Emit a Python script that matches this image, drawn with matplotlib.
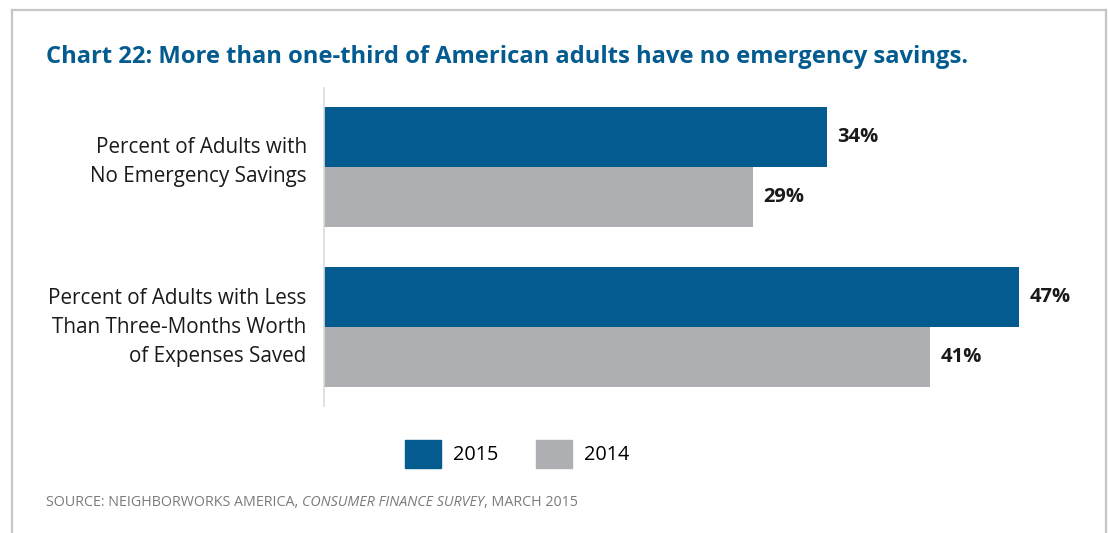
import matplotlib
matplotlib.use("Agg")
import matplotlib.pyplot as plt
from matplotlib.patches import Rectangle
from matplotlib.lines import Line2D

categories = [
    "Percent of Adults with\nNo Emergency Savings",
    "Percent of Adults with Less\nThan Three-Months Worth\nof Expenses Saved",
]
series_names = ["2015", "2014"]
values_2015 = [34, 47]
values_2014 = [29, 41]

title = "Chart 22: More than one-third of American adults have no emergency savings."
source_parts = [
    ("SOURCE: NEIGHBORWORKS AMERICA, ", "normal"),
    ("CONSUMER FINANCE SURVEY", "italic"),
    (", MARCH 2015", "normal"),
]

BLUE = "#035b8f"
GRAY = "#aeafb2"
FONT = "Open Sans"

plt.rcParams["font.family"] = [FONT, "DejaVu Sans"]

W, H = 1108, 533
fig = plt.figure(figsize=(W / 100, H / 100), dpi=100)
fig.patch.set_facecolor("white")

# frame around the panel (open at the bottom)
frame_kw = dict(color="#c6c6c6", linewidth=1.6, transform=fig.transFigure)
fig.add_artist(Line2D([12 / W, 12 / W], [0, 1 - 10 / H], **frame_kw))
fig.add_artist(Line2D([1106 / W, 1106 / W], [0, 1 - 10 / H], **frame_kw))
fig.add_artist(Line2D([12 / W, 1106 / W], [1 - 10 / H, 1 - 10 / H], **frame_kw))

# plotting area
left, right = 324, 324 + 52 * 14.79
top, bottom = 88, 406
ax = fig.add_axes([left / W, 1 - bottom / H, (right - left) / W, (bottom - top) / H])

bar_h = 0.375
pos = list(range(len(categories)))
b1 = ax.barh([p - bar_h / 2 for p in pos], values_2015, height=bar_h, color=BLUE,
             label=series_names[0], linewidth=0)
b2 = ax.barh([p + bar_h / 2 for p in pos], values_2014, height=bar_h, color=GRAY,
             label=series_names[1], linewidth=0)

for bars, vals in ((b1, values_2015), (b2, values_2014)):
    for rect, v in zip(bars, vals):
        ax.annotate(f"{v}%", xy=(v, rect.get_y() + rect.get_height() / 2),
                    xytext=(7.5, 0), textcoords="offset points",
                    ha="left", va="center", fontsize=14.5, fontweight="bold",
                    color="#1a1a1a")

# category labels, right-aligned against the axis line
label_lift = [3.5, 0]  # small upward nudge in points
for p, cat, lift in zip(pos, categories, label_lift):
    ax.annotate(cat, xy=(0, p), xytext=(-12.5, lift), textcoords="offset points",
                ha="right", va="center", ma="right", fontsize=14.9,
                color="#1a1a1a", linespacing=1.5, annotation_clip=False)

ax.set_xlim(0, 52)
ax.set_ylim(1 + 0.49375, -0.49375)
ax.set_yticks([])
ax.set_xticks([])
for s in ("top", "right", "bottom"):
    ax.spines[s].set_visible(False)
ax.spines["left"].set_color("#dcdcdc")
ax.spines["left"].set_linewidth(1.2)

# title
fig.text(46 / W, 1 - 57 / H, title, ha="left", va="center", fontsize=17.1,
         fontweight="bold", color=BLUE)

# legend
handles = [Rectangle((0, 0), 1, 1, color=BLUE), Rectangle((0, 0), 1, 1, color=GRAY)]
fig.legend(handles, series_names, loc="center", bbox_to_anchor=(517 / W, 1 - 454 / H),
           ncol=2, frameon=False, fontsize=14.3, handlelength=1.82, handleheight=1.82,
           handletextpad=0.6, columnspacing=1.9, borderpad=0)

# source line: pieces placed one after another in pixel coordinates
src_y = H - 503
pieces = [fig.text(0, src_y, txt, ha="left", va="center", fontsize=10.3,
                   color="#7a7a7a", style=st, transform=None)
          for txt, st in source_parts]
fig.canvas.draw()
renderer = fig.canvas.get_renderer()
x = 46
for t in pieces:
    t.set_x(x)
    x = t.get_window_extent(renderer).x1

fig.savefig("out.png", dpi=100)
